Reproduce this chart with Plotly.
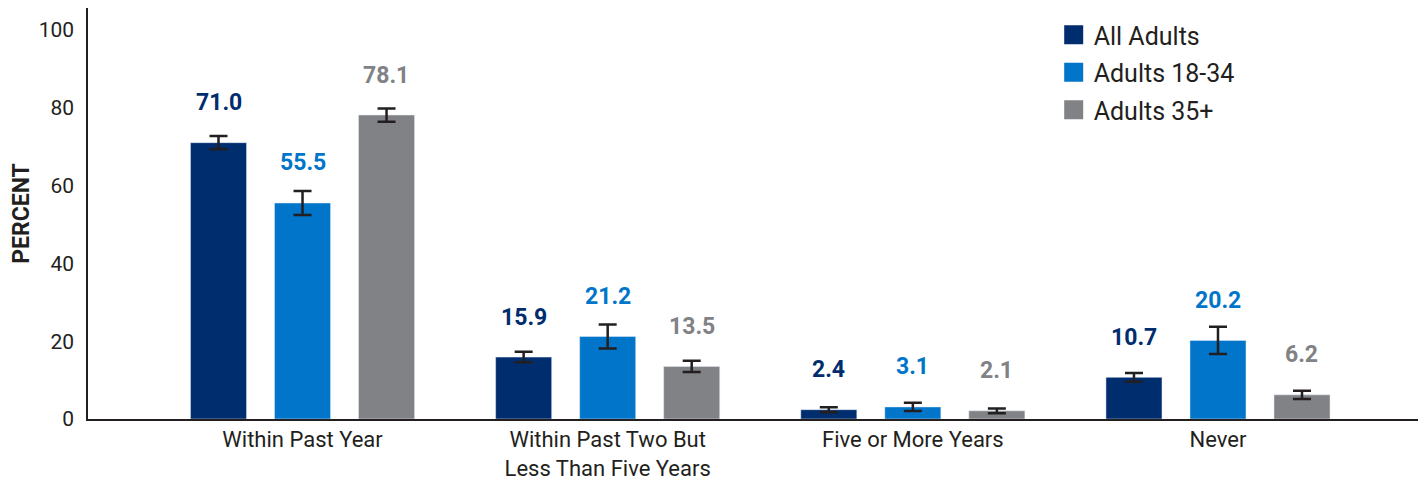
import plotly.graph_objects as go

categories = ["Within Past Year", "Within Past Two But<br>Less Than Five Years", "Five or More Years", "Never"]
series_names = ["All Adults", "Adults 18-34", "Adults 35+"]
all_adults = [71.0, 15.9, 2.4, 10.7]
adults_18_34 = [55.5, 21.2, 3.1, 20.2]
adults_35_plus = [78.1, 13.5, 2.1, 6.2]
err_all = [1.7, 1.35, 0.65, 1.1]
err_18_34 = [3.1, 3.1, 1.05, 3.5]
err_35 = [1.7, 1.45, 0.6, 1.05]
y_ticks = [0, 20, 40, 60, 80, 100]

colors = ["#002d6e", "#0075c9", "#808285"]
values = [all_adults, adults_18_34, adults_35_plus]
errors = [err_all, err_18_34, err_35]
FONT = "Roboto"

fig = go.Figure()
for name, vals, errs, col in zip(series_names, values, errors, colors):
    fig.add_trace(go.Bar(
        x=categories, y=vals, name=name, marker_color=col, showlegend=False,
        error_y=dict(type="data", array=errs, visible=True, color="#231f20", thickness=2.5, width=9),
    ))
# legend entries
for i, (name, col) in enumerate(zip(series_names, colors)):
    fig.add_trace(go.Scatter(
        x=[None], y=[None], mode="markers", name=name, legendgroup=name,
        marker=dict(symbol="square", size=20, color=col, line=dict(color=col, width=3)),
    ))

offsets = [-0.275, 0.0, 0.275]
for si, (vals, col) in enumerate(zip(values, colors)):
    for ci, v in enumerate(vals):
        fig.add_annotation(
            x=ci + offsets[si], y=v, xref="x", yref="y", text=f"<b>{v:.1f}</b>",
            showarrow=False, yshift=40, font=dict(family=FONT, size=23, color=col),
        )

fig.update_layout(
    width=1418, height=472,
    margin=dict(l=80, r=6, t=0, b=61),
    plot_bgcolor="white", paper_bgcolor="white",
    barmode="group", bargap=0.174, bargroupgap=0.333,
    font=dict(family=FONT, color="#231f20"),
    legend=dict(x=0.725, y=0.99, xanchor="left", yanchor="top",
                font=dict(family=FONT, size=25, color="#231f20"),
                traceorder="grouped", tracegroupgap=2, itemwidth=30,
                bgcolor="rgba(0,0,0,0)"),
    showlegend=True,
)
fig.update_xaxes(
    range=[-0.703, 3.662], showline=True, linecolor="#231f20", linewidth=1.5,
    ticks="", tickfont=dict(family=FONT, size=22, color="#231f20"), showgrid=False,
)
fig.update_yaxes(
    range=[0, 105.6], tickvals=y_ticks, showline=True, linecolor="#231f20", linewidth=1.5,
    ticks="", showgrid=False, zeroline=False,
    tickfont=dict(family=FONT, size=21, color="#231f20"), ticklabelstandoff=8,
    title=dict(text="<b>PERCENT</b>", font=dict(family=FONT, size=23, color="#231f20"), standoff=16),
)
fig.write_html("out.html")
